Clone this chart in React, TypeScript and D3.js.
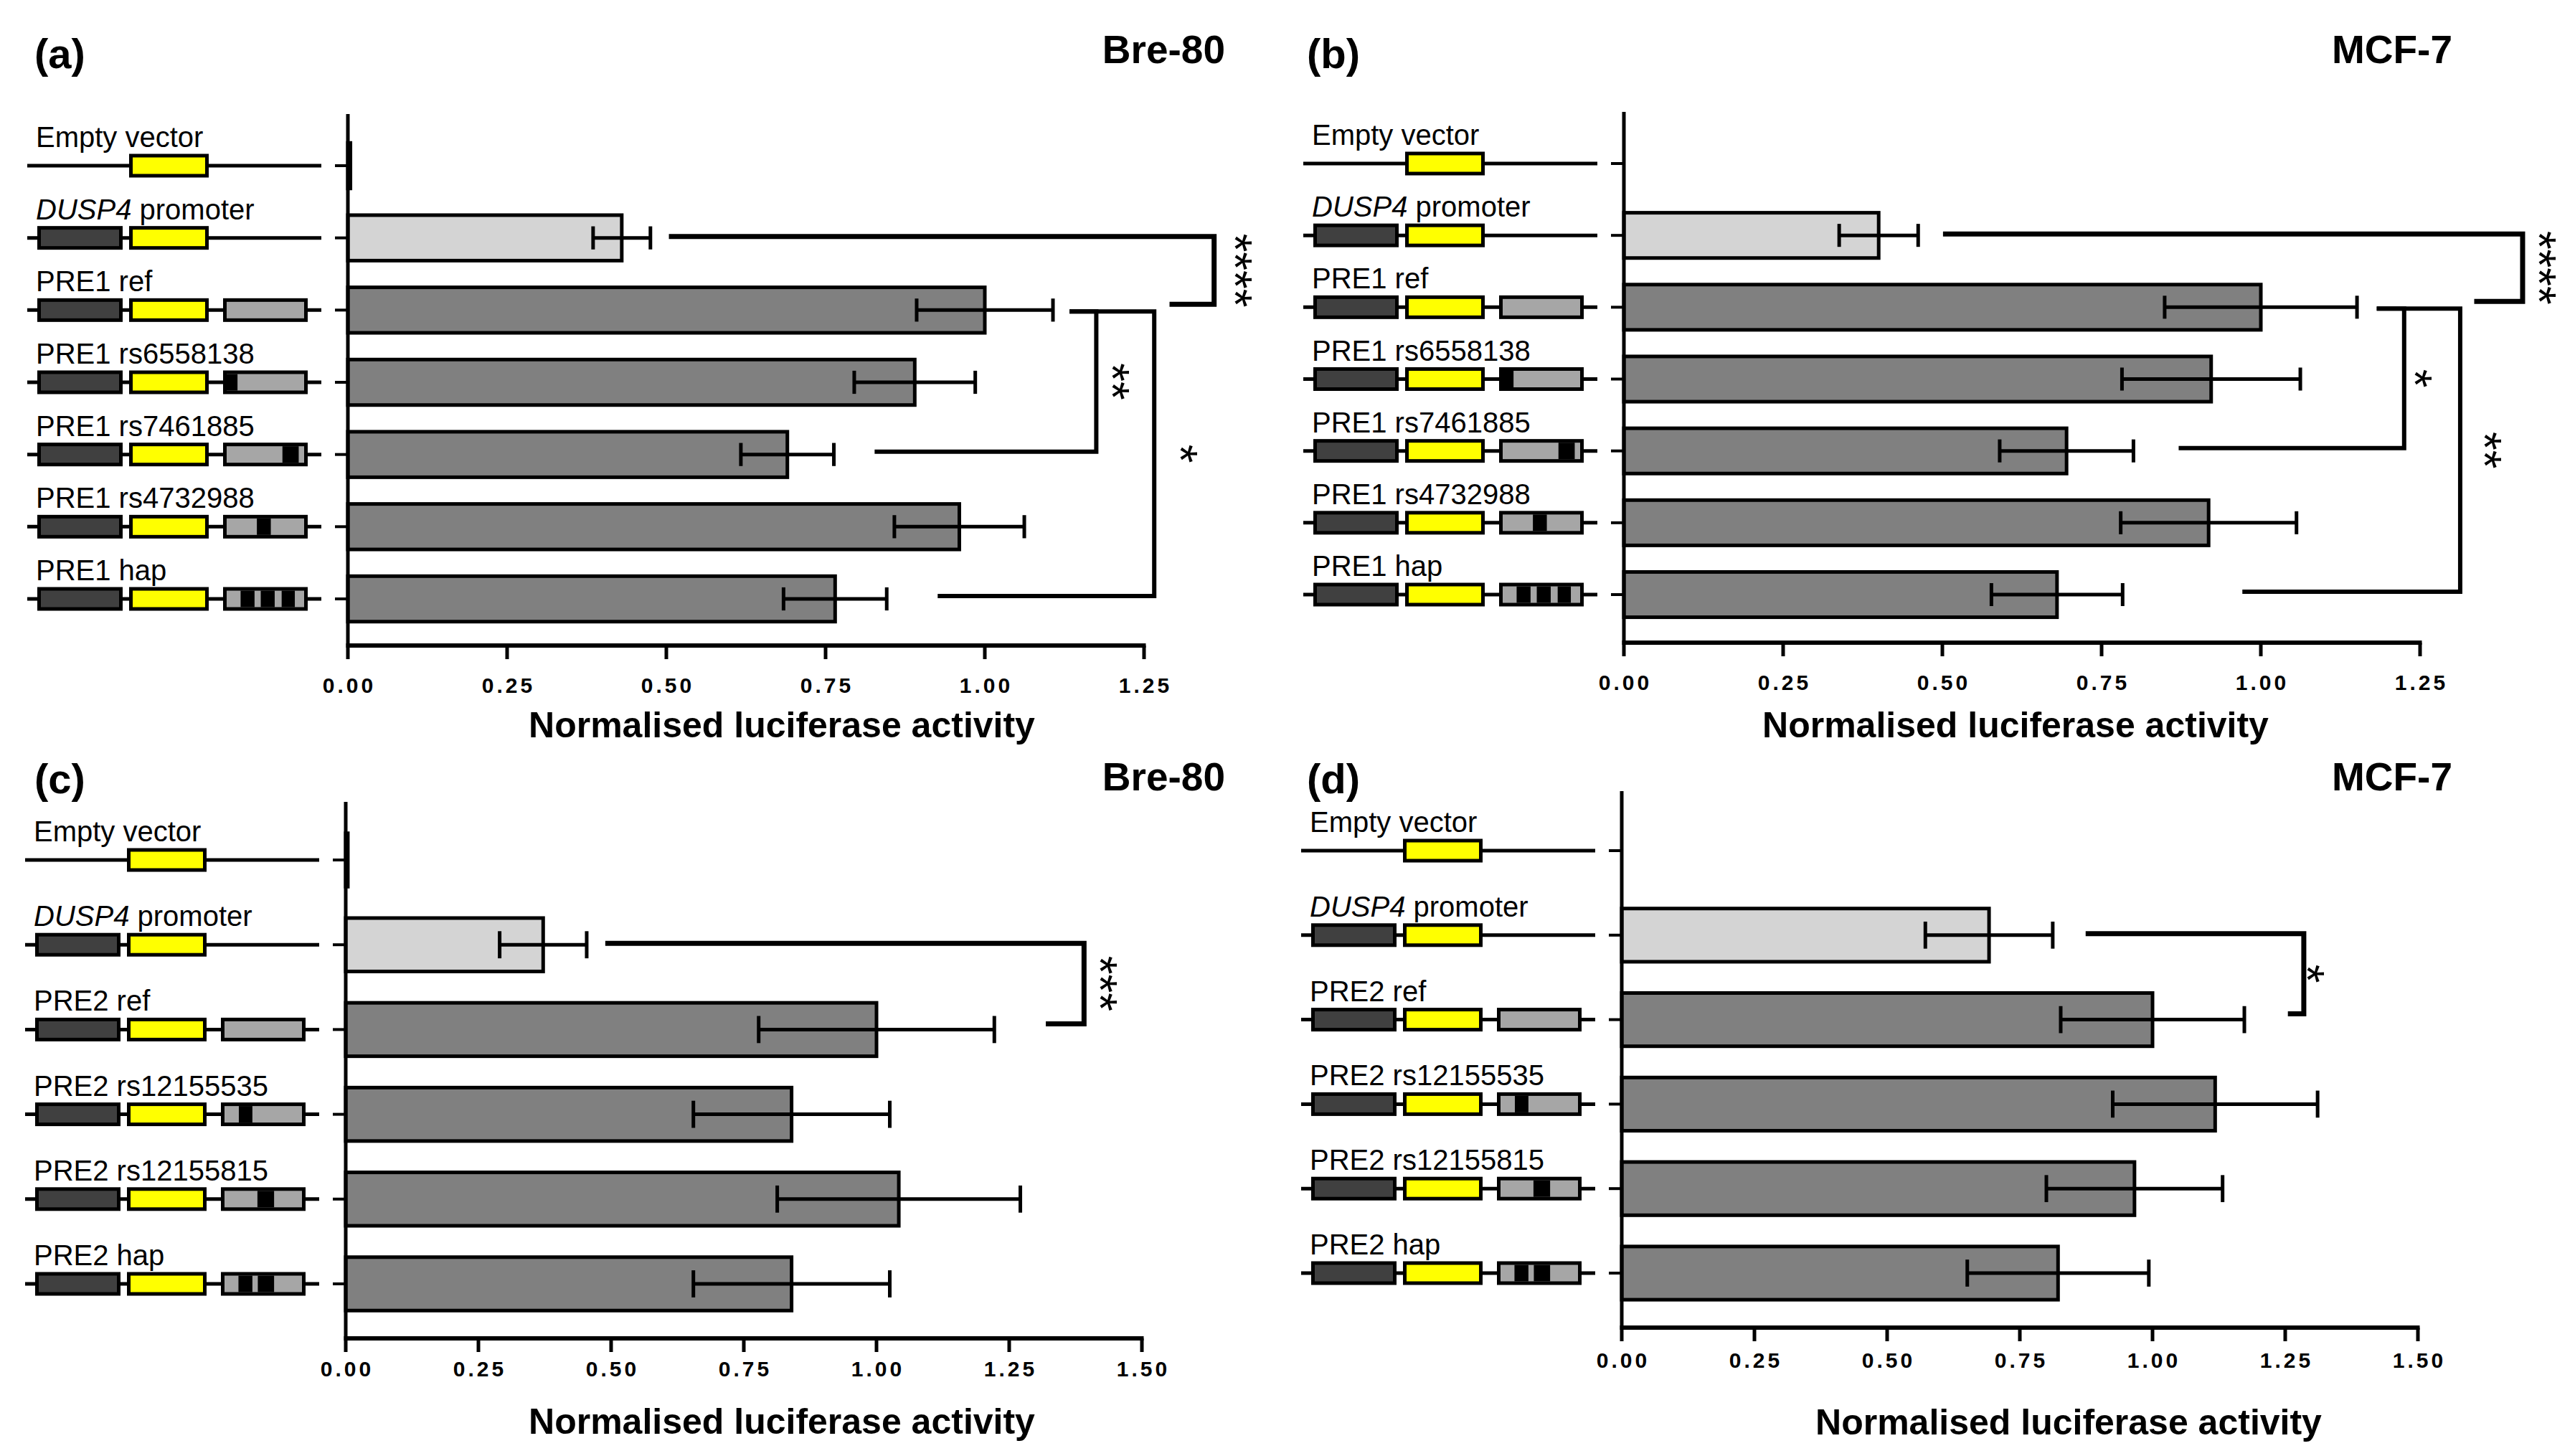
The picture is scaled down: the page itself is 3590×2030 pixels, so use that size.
import React from 'react';
import * as d3 from 'd3';

const W = 3590;
const H = 2030;
const FONT = 'Liberation Sans, Arial, sans-serif';

// row labels
const pre1Rows = ['Empty vector', 'DUSP4 promoter', 'PRE1 ref', 'PRE1 rs6558138', 'PRE1 rs7461885', 'PRE1 rs4732988', 'PRE1 hap'];
const pre2Rows = ['Empty vector', 'DUSP4 promoter', 'PRE2 ref', 'PRE2 rs12155535', 'PRE2 rs12155815', 'PRE2 hap'];

// construct drawings: type of construct and black SNP marks (fraction of the PRE box)
const pre1Kinds = ['empty', 'promoter', 'pre', 'pre', 'pre', 'pre', 'pre'];
const pre1Snps = [[], [], [], [[0, 0.14]], [[0.72, 0.93]], [[0.39, 0.57]], [[0.18, 0.36], [0.44, 0.62], [0.71, 0.88]]];
const pre2Kinds = ['empty', 'promoter', 'pre', 'pre', 'pre', 'pre'];
const pre2Snps = [[], [], [], [[0.185, 0.36]], [[0.425, 0.64]], [[0.18, 0.36], [0.43, 0.64]]];

// normalised luciferase activity (mean, error)
const bre80Pre1Mean = [0.004, 0.43, 1.0, 0.89, 0.69, 0.96, 0.765];
const bre80Pre1Err = [0, 0.045, 0.107, 0.095, 0.073, 0.102, 0.081];
const mcf7Pre1Mean = [0, 0.4, 1.0, 0.922, 0.695, 0.918, 0.68];
const mcf7Pre1Err = [0, 0.062, 0.151, 0.14, 0.105, 0.138, 0.103];
const bre80Pre2Mean = [0.004, 0.372, 1.0, 0.84, 1.042, 0.84];
const bre80Pre2Err = [0, 0.082, 0.222, 0.185, 0.229, 0.185];
const mcf7Pre2Mean = [0, 0.692, 1.0, 1.118, 0.966, 0.822];
const mcf7Pre2Err = [0, 0.12, 0.173, 0.193, 0.166, 0.171];

const ticksPre1 = [0, 0.25, 0.5, 0.75, 1.0, 1.25];
const ticksPre2 = [0, 0.25, 0.5, 0.75, 1.0, 1.25, 1.5];

// significance brackets: rows, x of start / vertical / end, stars, star column x
const bre80Pre1Sig = [
  { from: 1, to: 2, x1: 0.504, xv: 1.36, x2: 1.29, stars: '****', sx: 1.41 },
  { from: 2, to: 4, x1: 1.133, xv: 1.175, x2: 0.827, stars: '**', sx: 1.218 },
  { from: 2, to: 6, x1: 1.133, xv: 1.266, x2: 0.926, stars: '*', sx: 1.325 },
];
const mcf7Pre1Sig = [
  { from: 1, to: 2, x1: 0.501, xv: 1.411, x2: 1.335, stars: '****', sx: 1.454 },
  { from: 2, to: 4, x1: 1.182, xv: 1.225, x2: 0.871, stars: '*', sx: 1.259 },
  { from: 2, to: 6, x1: 1.182, xv: 1.313, x2: 0.971, stars: '**', sx: 1.368 },
];
const bre80Pre2Sig = [{ from: 1, to: 2, x1: 0.489, xv: 1.391, x2: 1.319, stars: '***', sx: 1.442 }];
const mcf7Pre2Sig = [{ from: 1, to: 2, x1: 0.874, xv: 1.285, x2: 1.255, stars: '*', sx: 1.312 }];

const AXIS_LEN = 1110;

const panels = [
  {
    letter: '(a)', cell: 'Bre-80', rows: pre1Rows, kinds: pre1Kinds, snps: pre1Snps,
    mean: bre80Pre1Mean, err: bre80Pre1Err, ticks: ticksPre1, sig: bre80Pre1Sig,
    x0: 485, rowFirst: 231, rowLast: 835, top: 159, axisY: 900, tickY: 966,
    titleX: 1090, titleY: 1028, letterX: 48, letterY: 95, cellX: 1708, cellY: 88,
  },
  {
    letter: '(b)', cell: 'MCF-7', rows: pre1Rows, kinds: pre1Kinds, snps: pre1Snps,
    mean: mcf7Pre1Mean, err: mcf7Pre1Err, ticks: ticksPre1, sig: mcf7Pre1Sig,
    x0: 2264, rowFirst: 228, rowLast: 829, top: 156, axisY: 896, tickY: 962,
    titleX: 2810, titleY: 1028, letterX: 1822, letterY: 95, cellX: 3419, cellY: 88,
  },
  {
    letter: '(c)', cell: 'Bre-80', rows: pre2Rows, kinds: pre2Kinds, snps: pre2Snps,
    mean: bre80Pre2Mean, err: bre80Pre2Err, ticks: ticksPre2, sig: bre80Pre2Sig,
    x0: 482, rowFirst: 1199, rowLast: 1790, top: 1118, axisY: 1866, tickY: 1919,
    titleX: 1090, titleY: 1999, letterX: 48, letterY: 1106, cellX: 1708, cellY: 1102,
  },
  {
    letter: '(d)', cell: 'MCF-7', rows: pre2Rows, kinds: pre2Kinds, snps: pre2Snps,
    mean: mcf7Pre2Mean, err: mcf7Pre2Err, ticks: ticksPre2, sig: mcf7Pre2Sig,
    x0: 2261, rowFirst: 1186, rowLast: 1775, top: 1103, axisY: 1851, tickY: 1907,
    titleX: 2884, titleY: 2000, letterX: 1822, letterY: 1106, cellX: 3419, cellY: 1102,
  },
];

function RowLabel({ x, y, name }: { x: number; y: number; name: string }) {
  if (name.startsWith('DUSP4')) {
    return (
      <text x={x} y={y} fontSize={40} fontFamily={FONT}>
        <tspan fontStyle="italic">DUSP4</tspan>
        {name.slice(5)}
      </text>
    );
  }
  return (
    <text x={x} y={y} fontSize={40} fontFamily={FONT}>
      {name}
    </text>
  );
}

function Construct({ x0, y, kind, snps }: { x0: number; y: number; kind: string; snps: number[][] }) {
  const bh = 28;
  const gx = x0 - 171.5;
  const gw = 113;
  const innerX = gx + 2.5;
  const innerW = gw - 5;
  return (
    <g>
      <line x1={x0 - 447} x2={x0 - 37} y1={y} y2={y} stroke="#000" strokeWidth={5} />
      {kind !== 'empty' && (
        <rect x={x0 - 430.5} y={y - bh / 2} width={114} height={bh} fill="#404040" stroke="#000" strokeWidth={5} />
      )}
      <rect x={x0 - 302.5} y={y - bh / 2} width={106} height={bh} fill="#ffff00" stroke="#000" strokeWidth={5} />
      {kind === 'pre' && (
        <g>
          <rect x={gx} y={y - bh / 2} width={gw} height={bh} fill="#a6a6a6" stroke="#000" strokeWidth={5} />
          {snps.map((s, i) => (
            <rect
              key={i}
              x={innerX + s[0] * innerW}
              y={y - bh / 2 + 2.5}
              width={(s[1] - s[0]) * innerW}
              height={bh - 5}
              fill="#000"
            />
          ))}
        </g>
      )}
    </g>
  );
}

function Panel({ p }: { p: (typeof panels)[number] }) {
  const xMax = p.ticks[p.ticks.length - 1];
  const x = d3.scaleLinear().domain([0, xMax]).range([p.x0, p.x0 + AXIS_LEN]);
  const y = d3.scalePoint<string>().domain(p.rows).range([p.rowFirst, p.rowLast]);
  const step = (p.rowLast - p.rowFirst) / (p.rows.length - 1);
  const bh = step * 0.63;
  const cap = step * 0.16;
  const refIdx = 2;

  return (
    <g>
      <text x={p.letterX} y={p.letterY} fontSize={58} fontWeight="bold" fontFamily={FONT}>
        {p.letter}
      </text>
      <text x={p.cellX} y={p.cellY} fontSize={55} fontWeight="bold" fontFamily={FONT} textAnchor="end">
        {p.cell}
      </text>

      {/* constructs and labels */}
      {p.rows.map((r, i) => {
        const yy = y(r) as number;
        return (
          <g key={r}>
            <RowLabel x={p.x0 - 435} y={yy - 26} name={r} />
            <Construct x0={p.x0} y={yy} kind={p.kinds[i]} snps={p.snps[i]} />
            <line x1={p.x0 - 18} x2={p.x0} y1={yy} y2={yy} stroke="#000" strokeWidth={4} />
          </g>
        );
      })}

      {/* bars */}
      {p.rows.map((r, i) => {
        const v = p.mean[i];
        if (v <= 0) return null;
        const yy = y(r) as number;
        return (
          <rect
            key={r}
            x={x(0)}
            y={yy - bh / 2}
            width={x(v) - x(0)}
            height={bh}
            fill={i === 1 ? '#d4d4d4' : '#808080'}
            stroke="#000"
            strokeWidth={5}
          />
        );
      })}

      {/* error bars */}
      {p.rows.map((r, i) => {
        const e = p.err[i];
        if (e <= 0) return null;
        const yy = y(r) as number;
        const lo = x(p.mean[i] - e);
        const hi = x(p.mean[i] + e);
        return (
          <g key={r} stroke="#000" strokeWidth={5}>
            <line x1={lo} x2={hi} y1={yy} y2={yy} />
            <line x1={lo} x2={lo} y1={yy - cap} y2={yy + cap} />
            <line x1={hi} x2={hi} y1={yy - cap} y2={yy + cap} />
          </g>
        );
      })}

      {/* axes */}
      <line x1={p.x0} x2={p.x0} y1={p.top} y2={p.axisY} stroke="#000" strokeWidth={5} />
      <line x1={p.x0 - 2.5} x2={x(xMax) + 2.5} y1={p.axisY} y2={p.axisY} stroke="#000" strokeWidth={6} />
      {p.ticks.map((t) => (
        <g key={t}>
          <line x1={x(t)} x2={x(t)} y1={p.axisY} y2={p.axisY + 19} stroke="#000" strokeWidth={5} />
          <text
            x={x(t) + 2}
            y={p.tickY}
            fontSize={30}
            fontWeight="bold"
            fontFamily={FONT}
            letterSpacing={4}
            textAnchor="middle"
          >
            {d3.format('.2f')(t)}
          </text>
        </g>
      ))}
      <text x={p.titleX} y={p.titleY} fontSize={50} fontWeight="bold" fontFamily={FONT} textAnchor="middle">
        Normalised luciferase activity
      </text>

      {/* significance */}
      {p.sig.map((s, i) => {
        const yTop = (y(p.rows[s.from]) as number) + (s.from === refIdx ? 2 : -2);
        const yBot = (y(p.rows[s.to]) as number) + (s.to === refIdx ? -8 : -4);
        const path = d3.path();
        path.moveTo(x(s.x1), yTop);
        path.lineTo(x(s.xv), yTop);
        path.lineTo(x(s.xv), yBot);
        path.lineTo(x(s.x2), yBot);
        const cy = (yTop + yBot) / 2;
        return (
          <g key={i}>
            <path d={path.toString()} fill="none" stroke="#000" strokeWidth={s.from === refIdx ? 6 : 7} />
            <text
              transform={`translate(${x(s.sx)},${cy}) rotate(90)`}
              fontSize={66}
              fontFamily={FONT}
              textAnchor="middle"
              dy="0.58em"
            >
              {s.stars}
            </text>
          </g>
        );
      })}
    </g>
  );
}

export default function App() {
  return (
    <div style={{ position: 'absolute', left: 0, top: 0 }}>
      <svg width={W} height={H} viewBox={`0 0 ${W} ${H}`} style={{ display: 'block', background: '#fff' }}>
        <rect width={W} height={H} fill="#fff" />
        {panels.map((p) => (
          <Panel key={p.letter} p={p} />
        ))}
      </svg>
    </div>
  );
}
